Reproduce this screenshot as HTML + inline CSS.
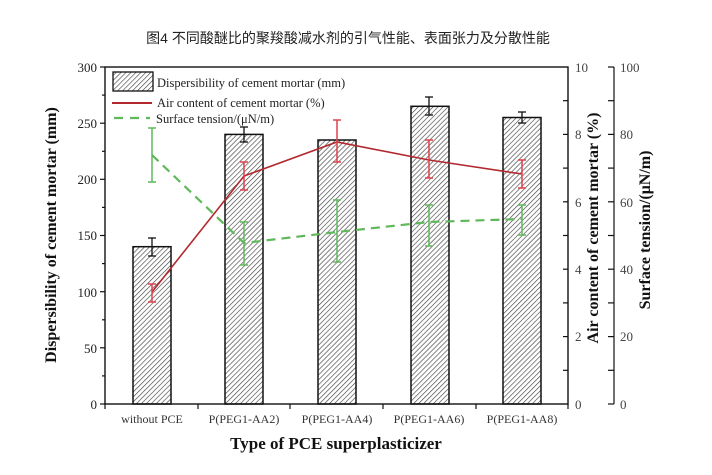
<!DOCTYPE html>
<html><head><meta charset="utf-8"><style>
html,body{margin:0;padding:0;background:#fff;}
svg{display:block;}
text{font-family:"Liberation Serif",serif;}
</style></head><body>
<svg width="712" height="475" viewBox="0 0 712 475" xmlns="http://www.w3.org/2000/svg">
<defs>
<pattern id="h" width="3.5" height="3.5" patternUnits="userSpaceOnUse" patternTransform="rotate(45)">
<rect width="3.5" height="3.5" fill="#fff"/><line x1="0" y1="0" x2="0" y2="3.5" stroke="#444" stroke-width="1.3"/>
</pattern>
</defs>
<text x="348" y="43" font-size="14" text-anchor="middle" fill="#222" style="font-family:'Liberation Sans','Noto Sans CJK SC',sans-serif">图4 不同酸醚比的聚羧酸减水剂的引气性能、表面张力及分散性能</text>

<g stroke="#111" stroke-width="1.5" fill="url(#h)">
<rect x="133" y="246.7" width="38" height="157.3"/>
<rect x="225" y="134.4" width="38" height="269.6"/>
<rect x="318" y="140" width="38" height="264"/>
<rect x="411" y="106.3" width="38" height="297.7"/>
<rect x="503" y="117.5" width="38" height="286.5"/>
</g>
<g stroke="#111" stroke-width="1.3">
<line x1="152" y1="238" x2="152" y2="256"/><line x1="148" y1="238" x2="156" y2="238"/><line x1="148" y1="256" x2="156" y2="256"/>
<line x1="244" y1="127" x2="244" y2="142"/><line x1="240" y1="127" x2="248" y2="127"/><line x1="240" y1="142" x2="248" y2="142"/>
<line x1="429" y1="97" x2="429" y2="115"/><line x1="425" y1="97" x2="433" y2="97"/><line x1="425" y1="115" x2="433" y2="115"/>
<line x1="522" y1="112" x2="522" y2="123"/><line x1="518" y1="112" x2="526" y2="112"/><line x1="518" y1="123" x2="526" y2="123"/>
</g>

<polyline points="152,155 244,243 337,232 429,222 522,219" fill="none" stroke="#5fb85a" stroke-width="2.2" stroke-dasharray="9,6"/>
<g stroke="#5fb85a" stroke-width="1.5">
<line x1="152" y1="128" x2="152" y2="182"/><line x1="148" y1="128" x2="156" y2="128"/><line x1="148" y1="182" x2="156" y2="182"/>
<line x1="244" y1="222" x2="244" y2="265"/><line x1="240" y1="222" x2="248" y2="222"/><line x1="240" y1="265" x2="248" y2="265"/>
<line x1="337" y1="200" x2="337" y2="262"/><line x1="333" y1="200" x2="341" y2="200"/><line x1="333" y1="262" x2="341" y2="262"/>
<line x1="429" y1="205" x2="429" y2="246"/><line x1="425" y1="205" x2="433" y2="205"/><line x1="425" y1="246" x2="433" y2="246"/>
<line x1="522" y1="205" x2="522" y2="235"/><line x1="518" y1="205" x2="526" y2="205"/><line x1="518" y1="235" x2="526" y2="235"/>
</g>

<polyline points="152,292 244,176 337,142 429,160 522,174" fill="none" stroke="#b3282f" stroke-width="1.6"/>
<g stroke="#e04048" stroke-width="1.5">
<line x1="152" y1="284" x2="152" y2="302"/><line x1="148" y1="284" x2="156" y2="284"/><line x1="148" y1="302" x2="156" y2="302"/>
<line x1="244" y1="162" x2="244" y2="190"/><line x1="240" y1="162" x2="248" y2="162"/><line x1="240" y1="190" x2="248" y2="190"/>
<line x1="337" y1="120" x2="337" y2="162"/><line x1="333" y1="120" x2="341" y2="120"/><line x1="333" y1="162" x2="341" y2="162"/>
<line x1="429" y1="140" x2="429" y2="178"/><line x1="425" y1="140" x2="433" y2="140"/><line x1="425" y1="178" x2="433" y2="178"/>
<line x1="522" y1="160" x2="522" y2="188"/><line x1="518" y1="160" x2="526" y2="160"/><line x1="518" y1="188" x2="526" y2="188"/>
</g>

<rect x="105" y="67" width="463" height="337" fill="none" stroke="#111" stroke-width="1.4"/>
<g stroke="#111" stroke-width="1.2">
<line x1="100" y1="404" x2="105" y2="404"/><line x1="100" y1="347.8" x2="105" y2="347.8"/><line x1="100" y1="291.7" x2="105" y2="291.7"/><line x1="100" y1="235.5" x2="105" y2="235.5"/><line x1="100" y1="179.3" x2="105" y2="179.3"/><line x1="100" y1="123.2" x2="105" y2="123.2"/><line x1="100" y1="67" x2="105" y2="67"/>
<line x1="102" y1="375.9" x2="105" y2="375.9"/><line x1="102" y1="319.8" x2="105" y2="319.8"/><line x1="102" y1="263.6" x2="105" y2="263.6"/><line x1="102" y1="207.4" x2="105" y2="207.4"/><line x1="102" y1="151.3" x2="105" y2="151.3"/><line x1="102" y1="95.1" x2="105" y2="95.1"/>
<line x1="105" y1="404" x2="105" y2="409"/><line x1="198" y1="404" x2="198" y2="409"/><line x1="290" y1="404" x2="290" y2="409"/><line x1="383" y1="404" x2="383" y2="409"/><line x1="476" y1="404" x2="476" y2="409"/><line x1="568" y1="404" x2="568" y2="409"/>
<line x1="563" y1="370.3" x2="568" y2="370.3"/><line x1="563" y1="336.6" x2="568" y2="336.6"/><line x1="563" y1="302.9" x2="568" y2="302.9"/><line x1="563" y1="269.2" x2="568" y2="269.2"/><line x1="563" y1="235.5" x2="568" y2="235.5"/><line x1="563" y1="201.8" x2="568" y2="201.8"/><line x1="563" y1="168.1" x2="568" y2="168.1"/><line x1="563" y1="134.4" x2="568" y2="134.4"/><line x1="563" y1="100.7" x2="568" y2="100.7"/>
<line x1="614" y1="67" x2="614" y2="404"/>
<line x1="608" y1="404" x2="614" y2="404"/><line x1="608" y1="370.3" x2="614" y2="370.3"/><line x1="608" y1="336.6" x2="614" y2="336.6"/><line x1="608" y1="302.9" x2="614" y2="302.9"/><line x1="608" y1="269.2" x2="614" y2="269.2"/><line x1="608" y1="235.5" x2="614" y2="235.5"/><line x1="608" y1="201.8" x2="614" y2="201.8"/><line x1="608" y1="168.1" x2="614" y2="168.1"/><line x1="608" y1="134.4" x2="614" y2="134.4"/><line x1="608" y1="100.7" x2="614" y2="100.7"/><line x1="608" y1="67" x2="614" y2="67"/>
</g>
<g font-size="13" fill="#222" text-anchor="end">
<text x="97" y="409">0</text><text x="97" y="353">50</text><text x="97" y="297">100</text><text x="97" y="240">150</text><text x="97" y="184">200</text><text x="97" y="128">250</text><text x="97" y="72">300</text>
</g>
<g font-size="13" fill="#444">
<text x="575" y="409">0</text><text x="575" y="341">2</text><text x="575" y="274">4</text><text x="575" y="207">6</text><text x="575" y="139">8</text><text x="575" y="72">10</text>
<text x="620" y="409">0</text><text x="620" y="341">20</text><text x="620" y="274">40</text><text x="620" y="207">60</text><text x="620" y="139">80</text><text x="620" y="72">100</text>
</g>
<g font-size="12" fill="#333" text-anchor="middle">
<text x="152" y="423">without PCE</text><text x="244" y="423">P(PEG1-AA2)</text><text x="337" y="423">P(PEG1-AA4)</text><text x="429" y="423">P(PEG1-AA6)</text><text x="522" y="423">P(PEG1-AA8)</text>
</g>
<text x="336" y="449" font-size="17" font-weight="bold" text-anchor="middle" fill="#111">Type of PCE superplasticizer</text>
<text transform="translate(56,235) rotate(-90)" font-size="16" font-weight="bold" text-anchor="middle" fill="#111">Dispersibility of cement mortar (mm)</text>
<text transform="translate(598,228) rotate(-90)" font-size="16" font-weight="bold" text-anchor="middle" fill="#111">Air content of cement mortar (%)</text>
<text transform="translate(650,230) rotate(-90)" font-size="16" font-weight="bold" text-anchor="middle" fill="#111">Surface tension/(μN/m)</text>

<rect x="113" y="72" width="40" height="19" fill="url(#h)" stroke="#111" stroke-width="1.3"/>
<text x="157" y="87" font-size="12.5" fill="#222">Dispersibility of cement mortar (mm)</text>
<line x1="112" y1="103" x2="152" y2="103" stroke="#b3282f" stroke-width="2"/>
<text x="157" y="107" font-size="12.5" fill="#222">Air content of cement mortar (%)</text>
<line x1="114" y1="118" x2="150" y2="118" stroke="#5fb85a" stroke-width="2.2" stroke-dasharray="9,7"/>
<text x="156" y="123" font-size="12.5" fill="#222">Surface tension/(μN/m)</text>
</svg>
</body></html>
